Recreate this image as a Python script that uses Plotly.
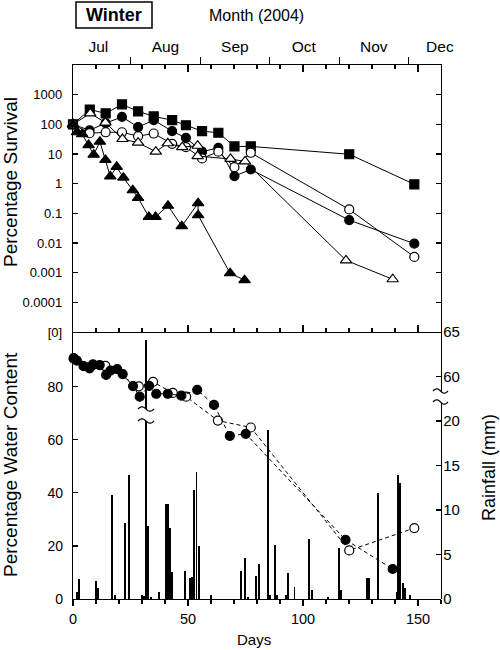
import math
import plotly.graph_objects as go

# ---------------- data : top panel (percentage survival, log scale) ----------------
sq_days = [0, 7.3, 14.2, 21.3, 28.3, 35.1, 43.1, 49.1, 56.1, 63.2, 70.2, 77.3, 120.1, 148.4]
sq_surv = [100, 316, 234, 468, 275, 185, 138, 93, 59, 52, 18, 18, 9.8, 0.95]

fc_days = [0, 7.2, 14.2, 21.3, 28.3, 35.1, 43.1, 49.1, 56.1, 63.2, 70.2, 77.3, 120.1, 148.4]
fc_surv = [100, 63, 110, 178, 81, 138, 59, 35, 12, 16, 1.8, 3.0, 0.059, 0.0095]

oc_days = [0, 7.2, 14.2, 21.3, 28.3, 35.1, 43.1, 49.1, 56.1, 63.2, 70.2, 77.3, 120.1, 148.4]
oc_surv = [100, 50, 54, 54, 40, 49, 22, 17, 7.1, 12, 3.6, 11, 0.135, 0.0034]

ot_days = [0, 7.5, 14.1, 21.5, 28.3, 36.0, 41.2, 47.5, 54.2, 54.2, 68.5, 74.8, 118.7, 139.0]
ot_surv = [100, 234, 115, 32, 24, 12, 23, 17, 19, 8.5, 6.8, 5.6, 0.0026, 0.0006]

ft_days = [0, 1.8, 4.0, 6.8, 9.0, 11.7, 14.1, 16.2, 19.0, 21.9, 26.0, 28.3, 33.0, 35.9,
           41.3, 47.3, 54.4, 54.4, 68.3, 74.6]
ft_surv = [100, 55, 47, 20, 9.5, 26, 6.3, 1.75, 3.7, 1.6, 0.6, 0.33, 0.076, 0.076,
           0.18, 0.037, 0.22, 0.087, 0.00096, 0.00056]

surv_tickvals = [1e-5, 1e-4, 1e-3, 1e-2, 1e-1, 1, 10, 100, 1000]
surv_ticktext = ["[0]", "0.0001", "0.001", "0.01", "0.1", "1", "10", "100", "1000"]

# ---------------- data : bottom panel (water content, rainfall) ----------------
wf_days = [0.3, 1.7, 4.6, 7.2, 8.5, 11.6, 14.4, 16.3, 19.2, 21.6, 26.1, 29.0, 33.1, 36.2,
           41.2, 47.1, 54.0, 61.3, 68.2, 75.1, 118.5, 139.0]
wf_wc = [90.7, 89.8, 87.7, 86.9, 88.1, 88.1, 84.4, 86.0, 86.6, 84.7, 80.2, 76.2, 80.3, 77.3,
         77.3, 76.6, 78.8, 73.1, 61.4, 62.2, 22.3, 11.3]

wo_days = [0.3, 8.7, 14.1, 28.6, 34.8, 43.4, 49.2, 63.0, 77.3, 120.1, 148.4]
wo_wc = [90.5, 88.4, 87.8, 80.1, 81.8, 77.6, 76.2, 67.2, 64.6, 18.3, 26.7]

rain_days = [1.7, 2.7, 9.9, 10.9, 17.1, 18.3, 22.8, 24.2, 30.0, 31.0, 31.9, 32.8, 34.0, 37.3,
             40.4, 41.3, 42.1, 43.2, 48.9, 50.7, 51.8, 52.8, 53.7, 54.9, 60.1, 72.9, 74.8,
             76.0, 79.4, 80.7, 84.8, 85.6, 87.7, 88.6, 92.4, 93.6, 96.3, 102.8, 103.8, 110.7,
             115.7, 116.5, 128.0, 128.9, 132.5, 140.7, 141.4, 142.3, 143.4, 144.5, 146.7]
rain_mm = [0.8, 2.3, 2.0, 1.2, 11.7, 0.4, 8.5, 13.9, 0.5, 0.3, 64.1, 8.2, 0.2, 0.8,
           10.7, 10.7, 8.0, 3.0, 3.2, 2.4, 2.5, 12.2, 14.3, 6.0, 0.4, 3.2, 4.6,
           0.2, 2.6, 3.9, 19.0, 0.5, 6.1, 0.4, 0.5, 2.9, 1.4, 6.7, 1.0, 0.2,
           5.7, 1.0, 2.4, 2.4, 11.9, 0.8, 13.9, 13.0, 1.8, 1.2, 0.5]

month_names = ["Jul", "Aug", "Sep", "Oct", "Nov", "Dec"]
month_label_days = [11.0, 40.2, 70.4, 100.3, 130.8, 159.5]
month_bound_days = [25.0, 55.5, 85.5, 116.0, 145.8]

# ---------------- layout geometry (screen pixels) ----------------
W, H = 500, 650
ML, MR, MT, MB = 73, 59, 65, 51
PW, PH = W - ML - MR, H - MT - MB
BOT = H - MB  # pixel y of bottom axis (599)


def X(px):
    return (px - ML) / PW


def Y(py):
    return (BOT - py) / PH


MID = Y(332)          # split between panels
BRK = Y(397)          # rainfall axis break
RAIN_PX = 8.9         # pixels per mm
rain_lo_top = (BOT - 397) / RAIN_PX
rain_hi_bot = 65 - (397 - 332) / RAIN_PX

FONT = "Liberation Sans, Arial, Helvetica, sans-serif"
BLK = "black"

fig = go.Figure()


def line_trace(x, y, symbol, filled, size, xa="x", ya="y", dash="solid"):
    return go.Scatter(
        x=x, y=y, mode="lines+markers", xaxis=xa, yaxis=ya, showlegend=False,
        line=dict(color=BLK, width=1, dash=dash),
        marker=dict(symbol=symbol, size=size,
                    color=BLK if filled else "white",
                    line=dict(color=BLK, width=1.2)),
        cliponaxis=False,
    )


# bottom panel: rainfall bars (lower and upper part of the broken axis)
for ya in ("y3", "y4"):
    fig.add_trace(go.Bar(x=rain_days, y=rain_mm, xaxis="x2", yaxis=ya, width=0.85,
                         marker=dict(color=BLK, line=dict(width=0)), showlegend=False))

# bottom panel: water content
fig.add_trace(line_trace(wo_days, wo_wc, "circle", False, 9, "x2", "y5", dash="4px,3px"))
fig.add_trace(line_trace(wf_days, wf_wc, "circle", True, 9, "x2", "y5", dash="4px,3px"))

# top panel: survival
fig.add_trace(line_trace(sq_days, sq_surv, "square", True, 9))
fig.add_trace(line_trace(fc_days, fc_surv, "circle", True, 9))
fig.add_trace(line_trace(oc_days, oc_surv, "circle", False, 9))
fig.add_trace(line_trace(ot_days, ot_surv, "triangle-up", False, 10))
fig.add_trace(line_trace(ft_days, ft_surv, "triangle-up", True, 10))

# invisible carriers so that the top (month / day-tick) axes are drawn
for xa in ("x3", "x4"):
    fig.add_trace(go.Scatter(x=[sq_days[0]], y=[sq_surv[0]], xaxis=xa, yaxis="y",
                             mode="markers", marker=dict(opacity=0), hoverinfo="skip",
                             showlegend=False))

axis_common = dict(showline=True, linecolor=BLK, linewidth=1.2, showgrid=False,
                   zeroline=False, tickcolor=BLK, tickwidth=1.2, automargin=False)

fig.update_layout(
    template="none",
    width=W, height=H,
    margin=dict(l=ML, r=MR, t=MT, b=MB, pad=0, autoexpand=False),
    paper_bgcolor="white", plot_bgcolor="rgba(0,0,0,0)",
    font=dict(family=FONT, color=BLK, size=14),
    bargap=0,
    hovermode=False,
    xaxis=dict(**axis_common, domain=[0, 1], anchor="y", range=[0, 160],
               ticks="inside", ticklen=7, dtick=50, tick0=0, mirror=True,
               showticklabels=False,
               minor=dict(ticks="inside", dtick=10, tick0=0, ticklen=4,
                          tickcolor=BLK, tickwidth=1.2)),
    xaxis4=dict(overlaying="x", anchor="y", side="top", range=[0, 160],
                showline=False, showgrid=False, zeroline=False, automargin=False,
                ticks="inside", ticklen=7, dtick=50, tick0=0, tickcolor=BLK,
                tickwidth=1.2, showticklabels=False,
                minor=dict(ticks="inside", dtick=10, tick0=0, ticklen=4,
                           tickcolor=BLK, tickwidth=1.2)),
    xaxis2=dict(**axis_common, domain=[0, 1], anchor="y5", range=[0, 160],
                ticks="outside", ticklen=6, tickvals=[0, 50, 100, 150],
                tickfont=dict(size=14.5),
                minor=dict(ticks="outside", dtick=10, tick0=0, ticklen=4,
                           tickcolor=BLK, tickwidth=1.2)),
    xaxis3=dict(overlaying="x", anchor="y", side="top", range=[0, 160],
                showline=False, showgrid=False, zeroline=False, automargin=False,
                tickvals=month_label_days, ticktext=month_names,
                ticks="outside", ticklen=6, tickcolor="rgba(0,0,0,0)",
                tickfont=dict(size=15.5),
                minor=dict(tickvals=month_bound_days, ticks="outside", ticklen=7,
                           tickcolor=BLK, tickwidth=1.2)),
    yaxis=dict(**axis_common, domain=[MID, 1], anchor="x", type="log", range=[-5, 4],
               tickvals=surv_tickvals, ticktext=surv_ticktext,
               ticks="inside", ticklen=5, mirror="ticks", ticklabelstandoff=7,
               tickfont=dict(size=13)),
    yaxis5=dict(**axis_common, domain=[0, MID], anchor="x2", range=[0, (BOT - 332) / 53.1 * 20],
                tickvals=[0, 20, 40, 60, 80], ticks="inside", ticklen=5,
                ticklabelstandoff=6, tickfont=dict(size=14)),
    yaxis3=dict(**axis_common, domain=[0, BRK], anchor="x2", side="right",
                range=[0, rain_lo_top], tickvals=[0, 5, 10, 15, 20],
                ticks="inside", ticklen=5, ticklabelstandoff=-2, tickfont=dict(size=15)),
    yaxis4=dict(**axis_common, domain=[BRK, MID], anchor="x2", side="right",
                range=[rain_hi_bot, 65], tickvals=[60, 65],
                ticks="inside", ticklen=5, ticklabelstandoff=-2, tickfont=dict(size=15)),
)


# ---------------- texts ----------------
def ann(text, px, py, size, angle=0, bold=False):
    fig.add_annotation(text=f"<b>{text}</b>" if bold else text, x=X(px), y=Y(py),
                       xref="paper", yref="paper", showarrow=False, textangle=angle,
                       font=dict(size=size, family=FONT, color=BLK),
                       xanchor="center", yanchor="middle")


ann("Winter", 114, 15, 18, bold=True)
ann("Month (2004)", 256.5, 15, 16)
ann("Percentage Survival", 10, 182, 19, angle=-90)
ann("Percentage Water Content", 10, 465, 19, angle=-90)
ann("Rainfall (mm)", 489, 467, 18, angle=-90)
ann("Days", 254, 639, 15)

shapes = [dict(type="rect", xref="paper", yref="paper", x0=X(76), x1=X(152),
               y0=Y(28), y1=Y(2), line=dict(color=BLK, width=1.5), fillcolor="white",
               layer="below")]


def wave_pts(a, b, py, amp, n=14, rev=False):
    pts = []
    for i in range(n + 1):
        t = i / n
        px = a + (b - a) * t
        pyy = py - amp * math.sin(2 * math.pi * t)
        pts.append((X(px), Y(pyy)))
    return pts[::-1] if rev else pts


def break_mark(a, b, py_top, py_bot, amp=2.2):
    top = wave_pts(a, b, py_top, amp)
    bot = wave_pts(a, b, py_bot, amp, rev=True)
    fill = "M " + " L ".join(f"{x:.5f},{y:.5f}" for x, y in top + bot) + " Z"
    shapes.append(dict(type="path", xref="paper", yref="paper", path=fill,
                       fillcolor="white", line=dict(width=0), layer="above"))
    for pts in (top, wave_pts(a, b, py_bot, amp)):
        p = "M " + " L ".join(f"{x:.5f},{y:.5f}" for x, y in pts)
        shapes.append(dict(type="path", xref="paper", yref="paper", path=p,
                           line=dict(color=BLK, width=1.2), layer="above"))


break_mark(433, 448, 391, 402)   # rainfall axis break
break_mark(138, 154, 409, 421)   # tall rainfall bar break

fig.update_layout(shapes=shapes)

# the page body has a default 8 px margin; remove it so the figure fills the window
fig.write_html("out.html",
               config={"displayModeBar": False, "staticPlot": True},
               post_script="document.body.style.margin='0px';"
                           "document.body.style.overflow='hidden';")
